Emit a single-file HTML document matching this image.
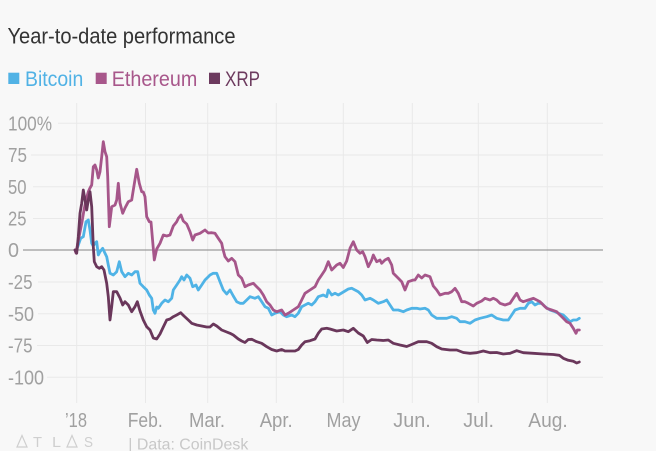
<!DOCTYPE html>
<html><head><meta charset="utf-8"><style>
html,body{margin:0;padding:0;background:#f8f8f8;}
svg{display:block;}
text{font-family:"Liberation Sans",sans-serif;}
</style></head><body>
<svg width="656" height="451" viewBox="0 0 656 451" xmlns="http://www.w3.org/2000/svg">
<rect x="0" y="0" width="656" height="451" fill="#f8f8f8"/>
<text x="7.5" y="43.5" font-size="22" fill="#333" textLength="228" lengthAdjust="spacingAndGlyphs">Year-to-date performance</text>
<rect x="8.3" y="72.7" width="11" height="11.3" fill="#51b2e5"/>
<text x="25" y="86" font-size="21" fill="#51b2e5" textLength="58.3" lengthAdjust="spacingAndGlyphs">Bitcoin</text>
<rect x="95.7" y="72.7" width="11" height="11.3" fill="#a8578b"/>
<text x="111.7" y="86" font-size="21" fill="#a8578b" textLength="85.6" lengthAdjust="spacingAndGlyphs">Ethereum</text>
<rect x="209" y="72.7" width="11" height="11.3" fill="#6c3a5e"/>
<text x="225" y="86" font-size="21" fill="#6c3a5e" textLength="35" lengthAdjust="spacingAndGlyphs">XRP</text>

<g stroke="#e9e9e9" stroke-width="1" fill="none">
<line x1="76.7" y1="103" x2="76.7" y2="403"/>
<line x1="145.5" y1="103" x2="145.5" y2="403"/>
<line x1="207.7" y1="103" x2="207.7" y2="403"/>
<line x1="276.3" y1="103" x2="276.3" y2="403"/>
<line x1="343.3" y1="103" x2="343.3" y2="403"/>
<line x1="412.3" y1="103" x2="412.3" y2="403"/>
<line x1="478.3" y1="103" x2="478.3" y2="403"/>
<line x1="547.3" y1="103" x2="547.3" y2="403"/>
<line x1="58" y1="123.3" x2="603" y2="123.3"/>
<line x1="31" y1="155" x2="603" y2="155"/>
<line x1="33" y1="186.8" x2="603" y2="186.8"/>
<line x1="33" y1="218.5" x2="603" y2="218.5"/>
<line x1="38" y1="282" x2="603" y2="282"/>
<line x1="38" y1="313.8" x2="603" y2="313.8"/>
<line x1="37" y1="345.5" x2="603" y2="345.5"/>
<line x1="47" y1="377.3" x2="603" y2="377.3"/>
</g>
<line x1="23" y1="250" x2="603" y2="250" stroke="#9b9b9b" stroke-width="1.2"/>

<g font-size="20" fill="#a0a0a0">
<text x="8" y="130.5" textLength="44" lengthAdjust="spacingAndGlyphs">100%</text>
<text x="8" y="162" textLength="19" lengthAdjust="spacingAndGlyphs">75</text>
<text x="8" y="193.8" textLength="18.5" lengthAdjust="spacingAndGlyphs">50</text>
<text x="8" y="225.5" textLength="18.5" lengthAdjust="spacingAndGlyphs">25</text>
<text x="8" y="257" textLength="11" lengthAdjust="spacingAndGlyphs">0</text>
<text x="8" y="289" textLength="24.5" lengthAdjust="spacingAndGlyphs">-25</text>
<text x="8" y="320.8" textLength="26" lengthAdjust="spacingAndGlyphs">-50</text>
<text x="8" y="352.5" textLength="24.5" lengthAdjust="spacingAndGlyphs">-75</text>
<text x="8" y="384.3" textLength="36" lengthAdjust="spacingAndGlyphs">-100</text>
</g>
<g font-size="20" fill="#a0a0a0">
<text x="65" y="427" textLength="22" lengthAdjust="spacingAndGlyphs">’18</text>
<text x="127.7" y="427" textLength="35" lengthAdjust="spacingAndGlyphs">Feb.</text>
<text x="189" y="427" textLength="36" lengthAdjust="spacingAndGlyphs">Mar.</text>
<text x="259.7" y="427" textLength="33" lengthAdjust="spacingAndGlyphs">Apr.</text>
<text x="326.5" y="427" textLength="34" lengthAdjust="spacingAndGlyphs">May</text>
<text x="393.3" y="427" textLength="37.4" lengthAdjust="spacingAndGlyphs">Jun.</text>
<text x="463.3" y="427" textLength="30.7" lengthAdjust="spacingAndGlyphs">Jul.</text>
<text x="528.3" y="427" textLength="39.4" lengthAdjust="spacingAndGlyphs">Aug.</text>
</g>

<g fill="none" stroke-width="2.8" stroke-linejoin="round" stroke-linecap="round">
<polyline stroke="#4fb3e6" points="76,251.7 78.3,245 80.7,238.3 83.3,236.7 86,221.7 88.3,220 90,230 91.7,243.3 93.3,246 95,243.3 96.7,241.7 98.3,255 100,251.7 102.7,248.3 105,253.3 106.7,256.7 108.3,265 110,273.3 113.3,275 116.7,271.7 119.3,261.7 121.7,271.7 125,276.7 128.3,273.3 131.7,275 135,271.7 137.7,271.7 140,283.3 143.3,286.7 146.7,290 149.3,295 151.7,298.3 153.3,310 155,313.3 156.7,307 158.3,308.3 161.7,303.3 165,300 168.3,301.7 171.7,298.3 173.3,290 176.7,285 180,280 181.7,276.7 184,280 186.7,275 190,278.3 192.7,286.7 196,285 198.3,290 201.7,285 205,280 208.3,276.7 210,275 213.3,273.3 216.7,273.3 220,281.7 223.3,290 226.7,294 230,290 233.3,296 236.7,301.7 240,303.3 243.3,303.3 246.7,300 250,296.7 255,298.3 258.3,296.7 261.7,301.7 265,306.7 268.3,308.3 271.7,315 275,313.3 280,311.7 283.3,315 286.7,316.7 291.7,315 295,316.7 298.3,313.3 301.7,306.7 305,305 308.3,303.3 311.7,305 315,301.7 318.3,296.7 323.3,295 326.7,296.7 328.3,290 331.7,295 335,293.3 338.3,295 341.7,293 345,291 348.3,289 351.7,288.3 355,290 358.3,291.7 361.7,295 365,300 370,298.3 373.3,300 378.3,303.3 383.3,301.7 386.7,300 390,305 393.3,310 398.3,310 403.3,311.7 406.7,310 411.7,308.3 416.7,308.3 420,309 425,308.3 428.3,310 431.7,315 436.7,318.3 441.7,318.3 446.7,318.3 451.7,316.7 456.7,318.3 460,321.7 465,321.7 470,323.3 475,320 480,318.3 486.7,316.7 491.7,315 496.7,318.3 503.3,320 508.3,320 511.7,315 515,310 520,308.3 525,308.3 528.3,303.3 531.7,301.7 535,305 538.3,303.3 541.7,303.3 545,306.7 550,310 555,311.7 558.3,313.3 563.3,315 566.7,318.3 570,321.7 573.3,320 576.7,320 579.3,318.3"/>
<polyline stroke="#a6568a" points="75,250 76,253 78,242 80,232 82,222 84,210 86,200 88.3,191.7 90,188 91.7,185 93.3,166.7 95,165 96.7,170 98.3,178 100,171.7 101.7,156.7 103.3,141.7 105,151.7 106.7,156.7 107.7,176.7 109.3,226.7 111.7,206.7 115,205 116.7,200 118.3,183.3 120,203 122.7,213.3 125,208 128.3,201.7 131.7,200 133.3,190 136.7,169.3 139.3,183.3 141.7,191.7 143.3,192 145,196.7 146.7,216.7 149.3,221.7 151,222 154.3,260 156.7,249 160,243.3 163.3,235 166.7,236 170,235 173.3,226 176.7,221.7 178.3,218.3 181,215 183.3,221 186.7,224 190,231.7 192.7,240 195,235 200,233.3 205,230 208.3,233 211.7,232.7 215,233.3 218.3,238.3 221.7,243.3 222.7,248.3 225,256.7 228.3,261 231.7,258.3 235,261.7 238.3,275 241.7,278.3 245,286.7 248.3,285 253.3,283.3 256.7,286.7 260,290 263.3,295 266.7,301.7 270,305 273.3,310 276.7,311.7 281.7,310 285,315 288.3,313.3 293.3,310 298.3,306.7 301.7,300 305,293.3 310,290 315,286.7 318.3,280 321.7,275 325,270 328.3,261.7 331.7,270 336.7,265 340,263.3 343.3,267.5 346.7,261 350,248.3 353.3,241.7 356.7,250 360,253.3 362.7,251.7 365,256.7 368.3,266.7 371.7,260 373.3,255 376.7,261.7 380,260 381.7,263.3 385,260 388.3,258.3 391.7,265 393.3,273.3 398.3,278.3 401.7,281.7 405,290 408.3,281.7 413.3,280 415,280 418.3,275 421.7,278 425,275 430,276.7 433.3,286 436.7,290 440,295 445,293.3 448.3,293.3 451.7,291.7 455,288.3 458.3,293.3 461.7,301.7 465,301.7 468.3,303.3 473.3,306 476.7,303.3 481.7,301 485,298.3 490,300 493.3,298.3 496.7,300 500,303.3 505,305 510,303.3 513.3,298.3 516.7,293.3 520,300 523.3,301.7 528.3,300 533.3,298.3 536.7,300 540,301.7 543.3,305 546.7,308.3 551.7,310 556.7,311.7 560,315 563.3,318.3 566.7,321.7 570,323.3 573.3,328.3 576,333.3 577.3,330 579.3,330"/>
<polyline stroke="#6a375b" points="75,250 76.7,253.3 78.3,236.7 80,213.3 81.7,203.3 83.3,190 85,200 86.7,210 88.3,200 90,191.7 91.7,206.7 93.3,246.7 94.3,261.7 96.7,266.7 99.3,268.3 101.7,266.7 104,270 106.7,283.3 108.3,296.7 110,320 111.7,306.7 113.3,291.7 116.7,291.7 120,298 122.7,305 125,301.7 128.3,305 131.7,311.7 135,306.7 137.3,301.7 140,311 143.3,320 146.7,326.7 150,330 153.3,338 156.7,339 160,334 163.3,327 166.7,320 170,319 173.3,316.7 176.7,315 180.7,312.7 184,316 188.3,320 191.7,323.3 196.7,325 201.7,326 206.7,327 210,327 213.3,324 216.7,326 221.7,330 226.7,332 230,333.3 233.3,335 238.3,339 241.7,341 245,342.5 248.3,339.5 251.7,339.3 256.7,341.7 261.7,343.3 266.7,346.7 271.7,349.5 276.7,351 281.7,349.5 285,351 290,351 295,351 298.3,349.5 301.7,345 305,341.7 310,340.7 315,339 318.3,333.3 321.7,329 326.7,328.3 330,329 336.7,331 343.3,330 348.3,331.7 353.3,328.3 358.3,333 363.3,336 367.3,342.5 371.7,339.5 376.7,340 383.3,340.5 388.3,340 393.3,343.3 400,345 406.7,346.5 411.7,344.5 418.3,341.7 426.7,341.7 431.7,343.3 436.7,346.7 441.7,349 450,350 456.7,350 463.3,352.5 470,353.3 476.7,352.7 483.3,351 490,352.7 496.7,352.5 503.3,354 510,353.3 516.7,350.7 523.3,352.7 533.3,353.3 543.3,354 553.3,354.5 559.3,355.3 563.3,358.3 568.3,360.3 573.3,361.3 576.7,363 579.3,362"/>
</g>

<g fill="none" stroke="#cfcfcf" stroke-width="1.2">
<polygon points="17,447 22,435.5 27,447"/>
<polygon points="67,447 72,435.5 77,447"/>
</g>
<g font-size="15" fill="#cfcfcf">
<text x="33" y="447" textLength="9" lengthAdjust="spacingAndGlyphs">T</text>
<text x="52" y="447" textLength="9" lengthAdjust="spacingAndGlyphs">L</text>
<text x="84" y="447" textLength="9" lengthAdjust="spacingAndGlyphs">S</text>
</g>
<text x="128.3" y="449.5" font-size="16" fill="#c8c8c8" textLength="120" lengthAdjust="spacingAndGlyphs">| Data: CoinDesk</text>
</svg>
</body></html>
